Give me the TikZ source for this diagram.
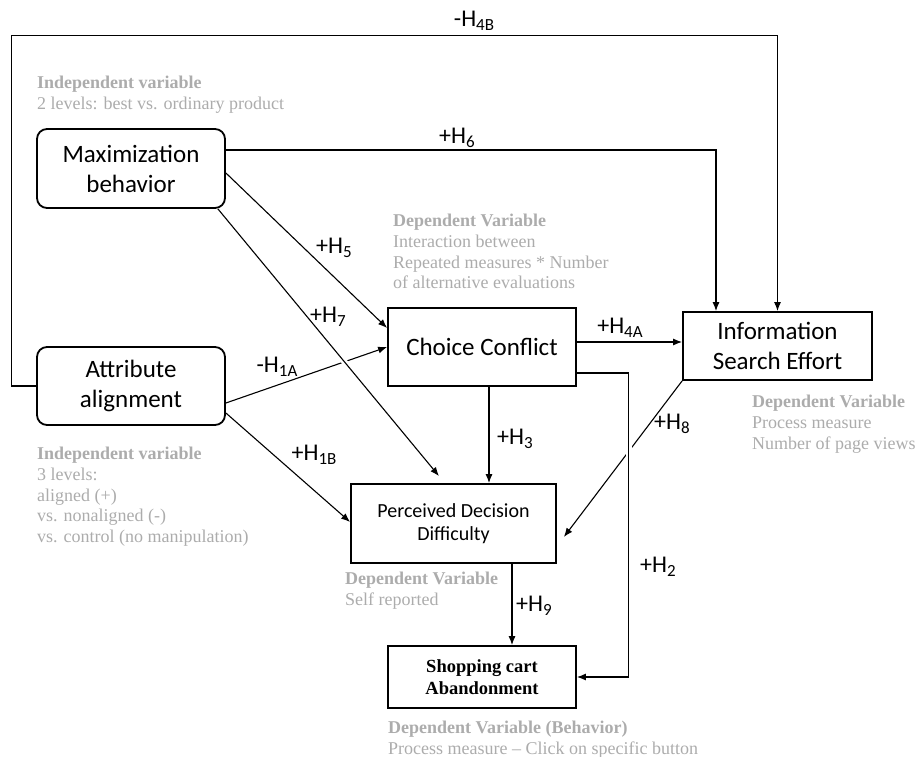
\documentclass[tikz,border=0pt]{standalone}
\usepackage{fontspec}
\setmainfont{Carlito}
\newfontfamily\notefont{Liberation Serif}
\usetikzlibrary{arrows.meta}

\definecolor{notegray}{RGB}{172,172,172}
\newcommand\hsub[1]{\raisebox{-4pt}{\fontsize{17}{17}\selectfont #1}}

\begin{document}
\begin{tikzpicture}[x=1pt,y=-1pt,
  box/.style={draw, line width=1.8pt, inner sep=0pt, align=center, fill=white,
    font=\fontsize{25}{30}\selectfont},
  rbox/.style={box, rounded corners=10pt},
  conn/.style={line width=1.1pt, -{Latex[length=9pt,width=7pt]}},
  halo/.style={preaction={draw, white, line width=6pt, -, shorten <=14pt, shorten >=14pt}},
  hyp/.style={inner sep=0pt, font=\fontsize{24}{28}\selectfont},
  note/.style={anchor=north west, inner sep=0pt, align=left, text=notegray,
    font=\notefont\fontsize{18}{20.7}\selectfont}]

\useasboundingbox (0,0) rectangle (916,757);

% constructs
\node[rbox, minimum width=188pt, minimum height=79pt] (max) at (131,168.5) {Maximization\\behavior};
\node[rbox, minimum width=188pt, minimum height=78pt] (att) at (131,386) {Attribute\\alignment};
\node[box, minimum width=188pt, minimum height=78pt] (cc) at (482,347) {Choice Conflict};
\node[box, minimum width=189pt, minimum height=68pt] (ise) at (777.5,346) {Information\\Search Effort};
\node[box, minimum width=205pt, minimum height=79pt, font=\fontsize{20}{23.5}\selectfont] (pdd) at (453.5,523.5) {Perceived Decision\\Difficulty};
\node[box, minimum width=188pt, minimum height=62pt, font=\notefont\bfseries\fontsize{18.5}{21.5}\selectfont] (sca) at (482,677) {Shopping cart\\Abandonment};

% hypothesised paths
\draw[conn] (att.west) -- ++(-25,0) |- ([yshift=276pt]ise.north) -- (ise.north);
\draw[conn] ([yshift=18.5pt]max.east) -| ([xshift=-61.5pt]ise.north);
\draw[conn] ([yshift=-4.5pt]max.east) -- ([yshift=19pt]cc.west);
\draw[conn] ([yshift=-17pt]att.east) -- (cc.west);
\draw[conn, halo] ([xshift=-8pt]max.south east) -- ([xshift=-14.5pt,yshift=7pt]pdd.north);
\draw[conn] ([yshift=-27pt]att.east) -- ([yshift=1.5pt]pdd.west);
\draw[conn] ([xshift=7pt]cc.south) -- ([xshift=7pt]cc.south |- pdd.north);
\draw[conn] ([yshift=5pt]cc.east) -- ([yshift=5pt]cc.east -| ise.west);
\draw[conn] (ise.south west) -- ([xshift=7pt,yshift=-13.5pt]pdd.east);
\draw[conn, halo] ([yshift=-26pt]cc.east) -- ++(52,0) |- (sca.east);
\draw[conn] ([xshift=58.5pt]pdd.south) -- ([xshift=58.5pt]pdd.south |- sca.north);

% path labels
\node[hyp] (l4b) at (474,21) {-H\hsub{4B}};
\node[hyp] (l6) at (457,138) {+H\hsub{6}};
\node[hyp] (l5) at (334,248) {+H\hsub{5}};
\node[hyp] (l7) at (328,317) {+H\hsub{7}};
\node[hyp] (l1a) at (277,367) {-H\hsub{1A}};
\node[hyp] (l1b) at (314,455) {+H\hsub{1B}};
\node[hyp] (l3) at (515,439) {+H\hsub{3}};
\node[hyp] (l4a) at (620,328) {+H\hsub{4A}};
\node[hyp] (l8) at (672,424) {+H\hsub{8}};
\node[hyp] (l2) at (658,567) {+H\hsub{2}};
\node[hyp] (l9) at (534,606) {+H\hsub{9}};

% variable descriptions
\node[note] (n1) at (37,76) {\textbf{Independent variable}\\2 levels: best vs. ordinary product};
\node[note] (n2) at (393,214) {\textbf{Dependent Variable}\\Interaction between\\Repeated measures * Number\\of alternative evaluations};
\node[note] (n3) at (752,395) {\textbf{Dependent Variable}\\Process measure\\Number of page views};
\node[note] (n4) at (37,447) {\textbf{Independent variable}\\3 levels:\\aligned (+)\\vs. nonaligned (-)\\vs. control (no manipulation)};
\node[note] (n5) at (345,572) {\textbf{Dependent Variable}\\Self reported};
\node[note] (n6) at (388,721) {\textbf{Dependent Variable (Behavior)}\\Process measure – Click on specific button};
\end{tikzpicture}
\end{document}
